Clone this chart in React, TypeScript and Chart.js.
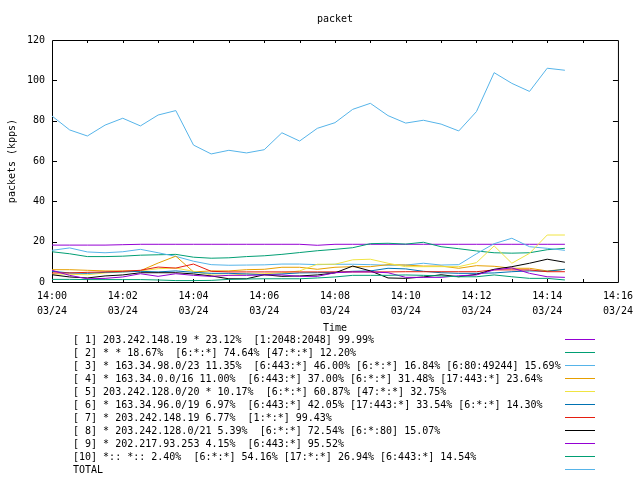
import React, { useEffect, useRef } from 'react';
import { Chart, registerables } from 'chart.js';

Chart.register(...registerables);

const FONT = "'DejaVu Sans Mono', 'Liberation Mono', monospace";

const chartTitle = 'packet';
const yTitle = 'packets (kpps)';
const xTitle = 'Time';
const dateLabel = '03/24';
const xTickLabels = ['14:00', '14:02', '14:04', '14:06', '14:08', '14:10', '14:12', '14:14', '14:16'];

// minutes after 14:00
const times = [0, 0.5, 1, 1.5, 2, 2.5, 3, 3.5, 4, 4.5, 5, 5.5, 6, 6.5, 7, 7.5, 8, 8.5, 9, 9.5, 10, 10.5, 11, 11.5, 12, 12.5, 13, 13.5, 14, 14.5];

const s1 = [18.3, 18.3, 18.3, 18.3, 18.5, 18.7, 18.7, 18.7, 18.7, 18.7, 18.7, 18.7, 18.7, 18.7, 18.7, 18.2, 18.7, 18.7, 18.7, 18.7, 18.7, 18.7, 18.7, 18.7, 18.7, 18.7, 18.7, 18.7, 18.7, 18.7];
const s2 = [15.0, 14.0, 12.6, 12.6, 12.8, 13.3, 13.5, 13.7, 12.3, 11.8, 12.0, 12.6, 13.0, 13.7, 14.6, 15.5, 16.2, 17.0, 19.0, 19.2, 18.8, 19.7, 17.5, 16.5, 15.4, 14.5, 14.3, 14.5, 16.0, 16.7];
const s3 = [15.7, 16.9, 14.9, 14.5, 15.0, 16.2, 14.5, 12.7, 10.3, 8.6, 8.3, 8.4, 8.5, 8.9, 8.9, 8.6, 8.8, 8.8, 8.6, 8.3, 8.4, 9.3, 8.4, 8.6, 14.0, 19.0, 21.7, 17.5, 16.7, 15.7];
const s4 = [6.1, 6.1, 5.8, 5.5, 5.5, 5.6, 9.4, 12.8, 5.0, 5.5, 5.5, 6.1, 6.3, 7.3, 7.3, 6.3, 7.3, 7.6, 7.6, 8.6, 8.4, 7.9, 7.9, 6.8, 8.1, 7.8, 6.8, 6.8, 5.5, 6.3];
const s5 = [4.0, 3.8, 3.6, 4.5, 5.0, 5.5, 6.6, 6.9, 5.3, 3.5, 3.3, 4.0, 4.1, 4.5, 5.5, 8.8, 8.8, 11.0, 11.3, 9.3, 7.6, 7.6, 7.6, 7.6, 9.6, 17.9, 9.3, 14.2, 23.3, 23.3];
const s6 = [5.3, 4.5, 4.3, 4.8, 5.0, 5.3, 5.0, 5.5, 4.8, 4.3, 4.3, 4.0, 3.6, 4.0, 4.5, 4.6, 4.8, 5.3, 5.5, 6.8, 6.5, 5.3, 4.6, 4.3, 4.3, 4.5, 5.1, 5.5, 5.3, 6.3];
const s7 = [4.5, 4.5, 4.8, 5.0, 5.3, 5.8, 7.4, 6.9, 8.9, 5.3, 5.0, 5.0, 5.0, 5.0, 5.0, 5.0, 5.0, 5.0, 5.0, 5.0, 5.1, 5.1, 5.1, 5.1, 5.1, 6.0, 6.0, 6.0, 5.1, 5.1];
const s8 = [3.6, 2.5, 2.0, 3.0, 3.5, 4.6, 4.6, 4.6, 4.0, 3.0, 1.6, 1.6, 3.6, 2.8, 3.0, 3.5, 4.5, 7.9, 5.5, 2.0, 1.8, 2.5, 3.6, 2.6, 3.8, 6.3, 7.6, 9.3, 11.3, 9.8];
const s9 = [5.8, 3.3, 1.6, 1.8, 2.5, 4.1, 2.8, 4.1, 3.3, 2.8, 3.3, 3.3, 3.5, 3.5, 2.8, 2.8, 4.6, 5.0, 5.0, 4.6, 2.3, 2.3, 2.3, 3.1, 3.5, 6.0, 7.0, 4.3, 2.6, 2.3];
const s10 = [1.3, 1.3, 1.2, 1.2, 1.2, 1.2, 1.0, 0.7, 0.7, 0.8, 1.3, 1.5, 1.6, 1.6, 1.6, 2.0, 2.5, 3.3, 3.3, 3.3, 3.5, 3.3, 3.0, 2.6, 2.6, 3.5, 2.6, 1.8, 1.8, 1.0];
const total = [82.3, 75.4, 72.4, 77.8, 81.2, 77.4, 82.8, 85.0, 67.9, 63.5, 65.3, 64.0, 65.6, 74.0, 69.9, 76.2, 79.0, 85.6, 88.6, 82.5, 78.8, 80.2, 78.3, 74.9, 84.5, 103.8, 98.5, 94.5, 106.0, 105.0];

const seriesValues = [s1, s2, s3, s4, s5, s6, s7, s8, s9, s10, total];

const seriesLabels = [
  '[ 1] 203.242.148.19 * 23.12%  [1:2048:2048] 99.99%',
  '[ 2] * * 18.67%  [6:*:*] 74.64% [47:*:*] 12.20%',
  '[ 3] * 163.34.98.0/23 11.35%  [6:443:*] 46.00% [6:*:*] 16.84% [6:80:49244] 15.69%',
  '[ 4] * 163.34.0.0/16 11.00%  [6:443:*] 37.00% [6:*:*] 31.48% [17:443:*] 23.64%',
  '[ 5] 203.242.128.0/20 * 10.17%  [6:*:*] 60.87% [47:*:*] 32.75%',
  '[ 6] * 163.34.96.0/19 6.97%  [6:443:*] 42.05% [17:443:*] 33.54% [6:*:*] 14.30%',
  '[ 7] * 203.242.148.19 6.77%  [1:*:*] 99.43%',
  '[ 8] * 203.242.128.0/21 5.39%  [6:*:*] 72.54% [6:*:80] 15.07%',
  '[ 9] * 202.217.93.253 4.15%  [6:443:*] 95.52%',
  '[10] *:: *:: 2.40%  [6:*:*] 54.16% [17:*:*] 26.94% [6:443:*] 14.54%',
  'TOTAL',
];

const seriesColors = ['#9400d3', '#009e73', '#56b4e9', '#e69f00', '#f0e442', '#0072b2', '#e51e10', '#000000', '#9400d3', '#009e73', '#56b4e9'];

const gnuplotPlugin = {
  id: 'gnuplotDecor',
  beforeDatasetsDraw(chart: any) {
    const { ctx, chartArea: a, scales } = chart;
    const x = scales.x;
    const y = scales.y;
    ctx.save();
    ctx.strokeStyle = '#000';
    ctx.lineWidth = 1;
    ctx.beginPath();
    ctx.rect(a.left + 0.5, a.top + 0.5, a.right - a.left, a.bottom - a.top);
    for (let m = 1; m < 16; m++) {
      const px = Math.round(x.getPixelForValue(m)) + 0.5;
      ctx.moveTo(px, a.bottom);
      ctx.lineTo(px, a.bottom - 3);
      ctx.moveTo(px, a.top);
      ctx.lineTo(px, a.top + 3);
    }
    for (let v = 20; v < 120; v += 20) {
      const py = Math.round(y.getPixelForValue(v)) + 0.5;
      ctx.moveTo(a.left, py);
      ctx.lineTo(a.left + 5, py);
      ctx.moveTo(a.right, py);
      ctx.lineTo(a.right - 5, py);
    }
    ctx.stroke();
    ctx.restore();
  },
  afterDraw(chart: any) {
    const { ctx, chartArea: a } = chart;
    ctx.save();
    ctx.font = `10px ${FONT}`;
    ctx.fillStyle = '#000';
    ctx.textBaseline = 'middle';
    ctx.textAlign = 'center';
    ctx.fillText(chartTitle, (a.left + a.right) / 2, 19);
    ctx.textAlign = 'left';
    chart.data.datasets.forEach((ds: any, i: number) => {
      const yc = a.bottom + 58.7 + 13 * i;
      ctx.fillStyle = '#000';
      ctx.fillText(ds.label, 73, yc);
      const ly = Math.floor(yc) - 1 + 0.5;
      ctx.strokeStyle = ds.borderColor;
      ctx.lineWidth = 1;
      ctx.beginPath();
      ctx.moveTo(565, ly);
      ctx.lineTo(595, ly);
      ctx.stroke();
    });
    ctx.restore();
  },
};

export default function App() {
  const canvasRef = useRef<HTMLCanvasElement | null>(null);

  useEffect(() => {
    const canvas = canvasRef.current;
    if (!canvas) return;
    Chart.defaults.color = '#000';
    const datasets = seriesValues.map((vals, i) => ({
      label: seriesLabels[i],
      data: vals.map((v, k) => ({ x: times[k], y: v })),
      borderColor: seriesColors[i],
      backgroundColor: seriesColors[i],
      borderWidth: 1,
      pointRadius: 0,
      tension: 0,
      fill: false,
      order: seriesValues.length - i,
    }));
    const chart = new Chart(canvas, {
      type: 'line',
      data: { datasets },
      options: {
        responsive: false,
        animation: false,
        layout: { padding: { top: 40, right: 19, bottom: 146, left: 0 } },
        plugins: {
          legend: { display: false },
          tooltip: { enabled: false },
          title: { display: false },
        },
        scales: {
          x: {
            type: 'linear',
            min: 0,
            max: 16,
            grid: { display: false, drawTicks: false },
            border: { display: false },
            ticks: {
              stepSize: 2,
              autoSkip: false,
              maxRotation: 0,
              padding: 7,
              color: '#000',
              font: { family: FONT, size: 10, lineHeight: 1.5 },
              callback: (v: any) => [xTickLabels[Math.round(Number(v) / 2)], dateLabel],
            },
            title: {
              display: true,
              text: xTitle,
              color: '#000',
              font: { family: FONT, size: 10 },
              padding: { top: 0, bottom: 0 },
            },
            afterFit: (scale: any) => {
              scale.height = 52;
            },
          },
          y: {
            type: 'linear',
            min: 0,
            max: 120,
            grid: { display: false, drawTicks: false },
            border: { display: false },
            ticks: {
              stepSize: 20,
              padding: 7,
              color: '#000',
              font: { family: FONT, size: 10 },
            },
            title: {
              display: true,
              text: yTitle,
              color: '#000',
              font: { family: FONT, size: 10 },
              padding: { top: 6, bottom: 0 },
            },
            afterFit: (scale: any) => {
              scale.width = 52;
            },
          },
        },
      },
      plugins: [gnuplotPlugin],
    });
    return () => chart.destroy();
  }, []);

  return (
    <div style={{ position: 'absolute', left: 0, top: 0, width: 640, height: 480, background: '#fff' }}>
      <canvas ref={canvasRef} width={640} height={480} style={{ display: 'block' }} />
    </div>
  );
}
